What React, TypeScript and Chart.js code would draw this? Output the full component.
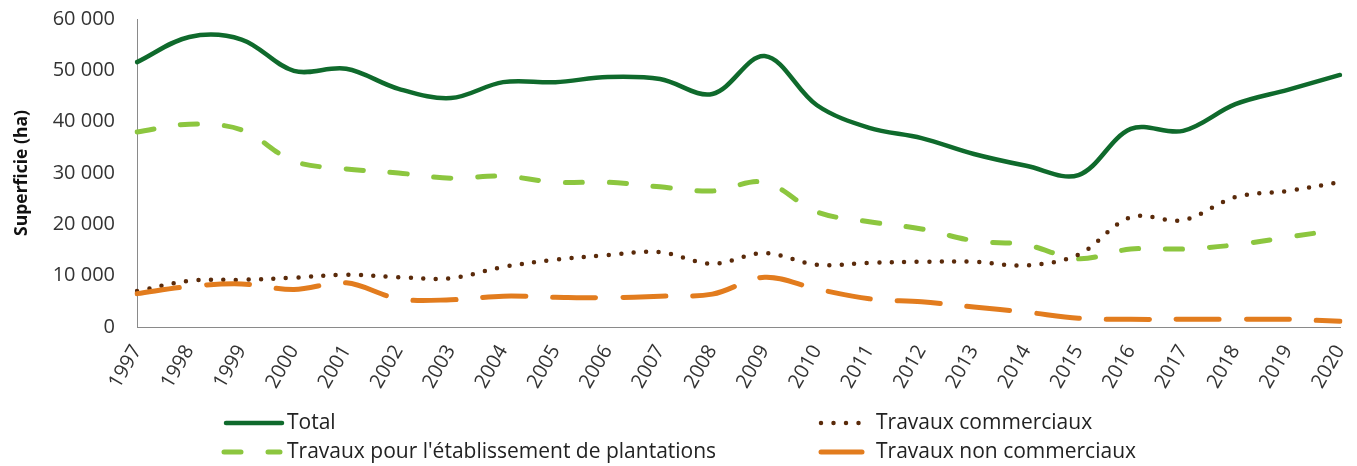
import React, { useEffect, useRef } from "react";
import { Chart, registerables } from "chart.js";

Chart.register(...registerables);

const years = ["1997","1998","1999","2000","2001","2002","2003","2004","2005","2006","2007","2008","2009","2010","2011","2012","2013","2014","2015","2016","2017","2018","2019","2020"];
const total = [51600,56500,56000,49900,50300,46400,44600,47700,47700,48700,48300,45400,52800,43200,38800,36800,33700,31400,29600,38600,38200,43400,46200,49100];
const plantations = [38000,39500,38400,32300,30800,30000,29000,29400,28200,28200,27300,26500,28200,22400,20500,19100,16800,16000,13300,15200,15200,16000,17500,19000];
const commerciaux = [7000,9000,9200,9600,10200,9700,9500,11700,13100,14000,14600,12300,14400,12100,12500,12700,12700,12000,14100,21400,20800,25300,26500,28200];
const nonCommerciaux = [6500,7900,8400,7300,8600,5500,5300,6000,5800,5700,6000,6400,9700,7400,5500,4900,3900,2900,1700,1500,1500,1500,1500,1100];

const yTicks = [0, 10000, 20000, 30000, 40000, 50000, 60000];

const FONT = "'Open Sans', 'Noto Sans', sans-serif";
const GREEN_DARK = "#0f6a2c";
const GREEN_LIGHT = "#8cc63f";
const BROWN = "#5a2a0a";
const ORANGE = "#e27c1e";

const fmt = (v: number) => String(v).replace(/\B(?=(\d{3})+(?!\d))/g, " ");

const legendItems = [
  { label: "Total", color: GREEN_DARK, dash: [] as number[], width: 4.5, x: 226, x2: 282, tx: 287, row: 0 },
  { label: "Travaux commerciaux", color: BROWN, dash: [0, 12.5], width: 4.5, x: 821, x2: 868, tx: 876, row: 0 },
  { label: "Travaux pour l'établissement de plantations", color: GREEN_LIGHT, dash: [17, 27], width: 5, x: 224, x2: 280, tx: 287, row: 1 },
  { label: "Travaux non commerciaux", color: ORANGE, dash: [43, 27], width: 5, x: 821, x2: 862, tx: 876, row: 1 },
];

const legendPlugin = {
  id: "customLegend",
  afterDraw(chart: any) {
    const ctx = chart.ctx;
    ctx.save();
    const rows = [423, 452];
    legendItems.forEach((it) => {
      const y = rows[it.row];
      ctx.beginPath();
      ctx.strokeStyle = it.color;
      ctx.lineWidth = it.width;
      ctx.lineCap = "round";
      ctx.setLineDash(it.dash);
      ctx.moveTo(it.x, y);
      ctx.lineTo(it.x2, y);
      ctx.stroke();
      ctx.setLineDash([]);
      ctx.fillStyle = "#222";
      ctx.font = `21px ${FONT}`;
      ctx.textBaseline = "middle";
      ctx.textAlign = "left";
      ctx.fillText(it.label, it.tx, y);
    });
    ctx.restore();
  },
};

export default function App() {
  const ref = useRef<HTMLCanvasElement | null>(null);
  useEffect(() => {
    if (!ref.current) return;
    const common = { pointRadius: 0, pointHoverRadius: 0, tension: 0.35, fill: false, borderCapStyle: "round" as const };
    const chart = new Chart(ref.current, {
      type: "line",
      data: {
        labels: years,
        datasets: [
          { label: "Travaux non commerciaux", data: nonCommerciaux, borderColor: ORANGE, borderWidth: 5, borderDash: [43, 27], ...common },
          { label: "Travaux commerciaux", data: commerciaux, borderColor: BROWN, borderWidth: 4.5, borderDash: [0, 12.5], ...common },
          { label: "Travaux pour l'établissement de plantations", data: plantations, borderColor: GREEN_LIGHT, borderWidth: 5, borderDash: [17, 27], ...common },
          { label: "Total", data: total, borderColor: GREEN_DARK, borderWidth: 4.5, ...common },
        ],
      },
      options: {
        animation: false,
        responsive: true,
        maintainAspectRatio: false,
        layout: { padding: { top: 19, right: 17, bottom: 70, left: 0 } },
        plugins: { legend: { display: false }, tooltip: { enabled: false } },
        scales: {
          x: {
            offset: false,
            grid: { display: false, drawTicks: false },
            border: { display: true, color: "#8a8a8a", width: 1 },
            ticks: {
              color: "#333",
              font: { family: FONT, size: 20 },
              minRotation: 60,
              maxRotation: 60,
              padding: 14,
              autoSkip: false,
            },
            afterFit: (s: any) => {
              s.height = 69;
              s.paddingLeft = 0;
              s.paddingRight = 0;
            },
          },
          y: {
            min: 0,
            max: 60000,
            afterBuildTicks: (s: any) => { s.ticks = yTicks.map((v) => ({ value: v })); },
            grid: { display: false, drawTicks: false },
            border: { display: true, color: "#8a8a8a", width: 1 },
            ticks: {
              color: "#333",
              font: { family: FONT, size: 20 },
              padding: 22,
              callback: (v: any) => fmt(Number(v)),
            },
            title: {
              display: true,
              text: "Superficie (ha)",
              color: "#111",
              font: { family: FONT, size: 17.5, weight: "bold" },
              padding: { top: 12, bottom: 0 },
            },
            afterFit: (s: any) => {
              s.width = 137;
              s.paddingTop = 0;
              s.paddingBottom = 0;
            },
          },
        },
      },
      plugins: [legendPlugin],
    });
    return () => chart.destroy();
  }, []);
  return (
    <div style={{ position: "absolute", left: 0, top: 0, width: 1357, height: 466 }}>
      <canvas ref={ref} />
    </div>
  );
}
